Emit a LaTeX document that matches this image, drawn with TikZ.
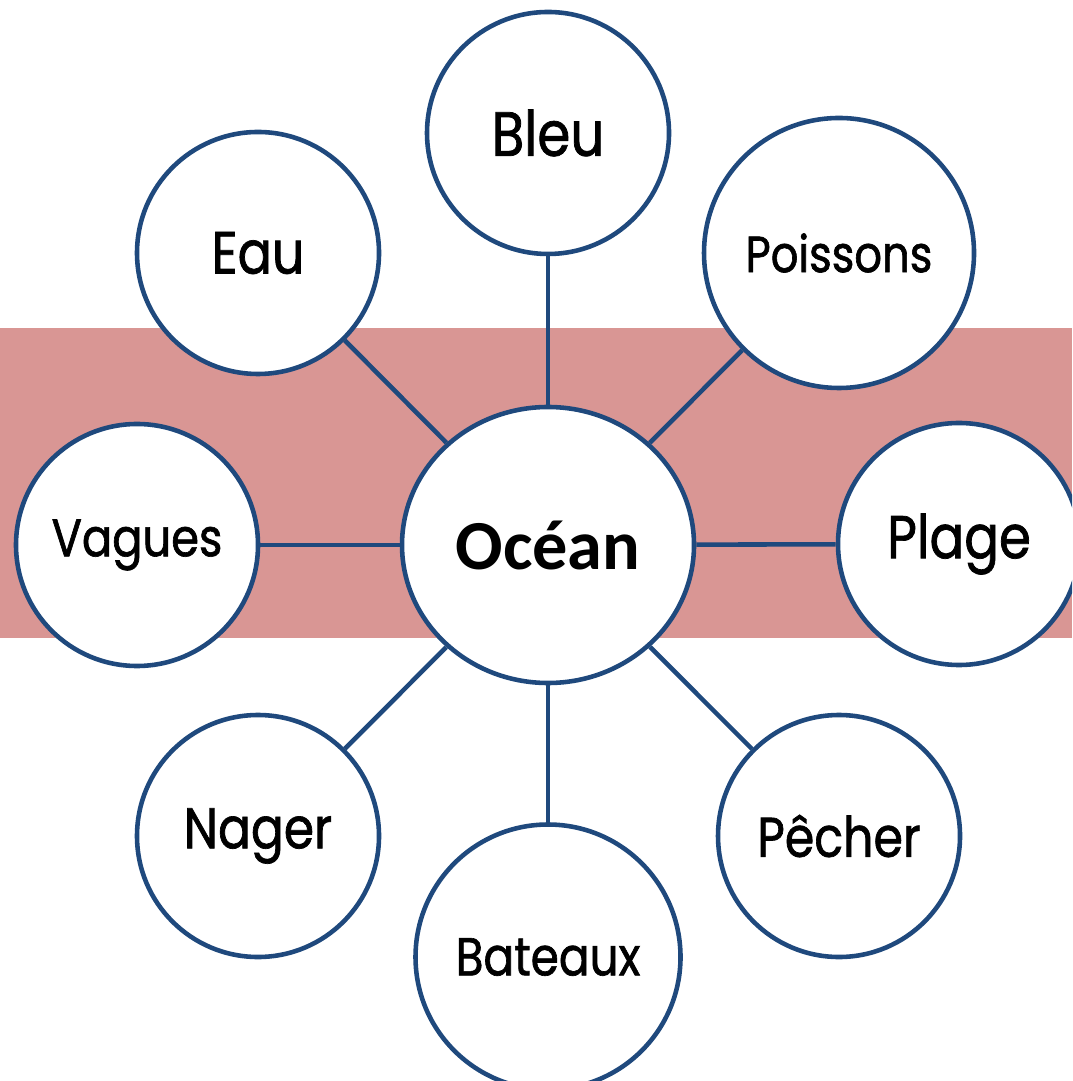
\documentclass[tikz,border=0pt]{standalone}
\usepackage{fontspec}
\setmainfont{Carlito}
\newfontfamily\kidfont[FakeStretch=0.85,FakeBold=1.2]{Poppins}
\usetikzlibrary{shapes.geometric}
\definecolor{ringblue}{RGB}{31,73,125}
\definecolor{bandred}{RGB}{217,150,148}

\begin{document}
\begin{tikzpicture}[line width=1.3pt,
    word/.style={shape=circle,draw=ringblue,fill=white,text=black,minimum size=2.42cm,
                 inner sep=0pt,font=\kidfont\fontsize{#1}{#1}\selectfont},
    word/.default=17,
    hub/.style={shape=ellipse,draw=ringblue,fill=white,minimum width=2.92cm,
                minimum height=2.76cm,inner sep=0pt,font=\bfseries\fontsize{20}{24}\selectfont},
    every edge/.style={draw=ringblue,line width=1.3pt}]

  \useasboundingbox (0,0) rectangle (10.72,-10.81);
  \clip (0,0) rectangle (10.72,-10.81);
  \fill[bandred] (0,-3.28) rectangle (10.72,-6.38);

  \node[hub] (O) at (5.48,-5.45) {Océan};
  \node[word=17.8] (B) at (5.48,-1.33) {Bleu};
  \node[word=17] (E) at (2.58,-2.53) {Eau};
  \node[word=14.5,minimum size=2.7cm] (P) at (8.39,-2.53) {Poissons};
  \node[word=15] (V) at (1.37,-5.45) {Vagues};
  \node[word=17.2] (G) at (9.59,-5.44) {Plage};
  \node[word=16.3] (N) at (2.58,-8.36) {Nager};
  \node[word=15.9] (H) at (8.39,-8.36) {Pêcher};
  \node[word=15.2,minimum size=2.65cm] (T) at (5.48,-9.57) {Bateaux};

  \path (O) edge (B)
        (O) edge (E)
        (O) edge (P)
        (O) edge (V)
        (O) edge (G)
        (O) edge (N)
        (O) edge (H)
        (O) edge (T);
\end{tikzpicture}
\end{document}
